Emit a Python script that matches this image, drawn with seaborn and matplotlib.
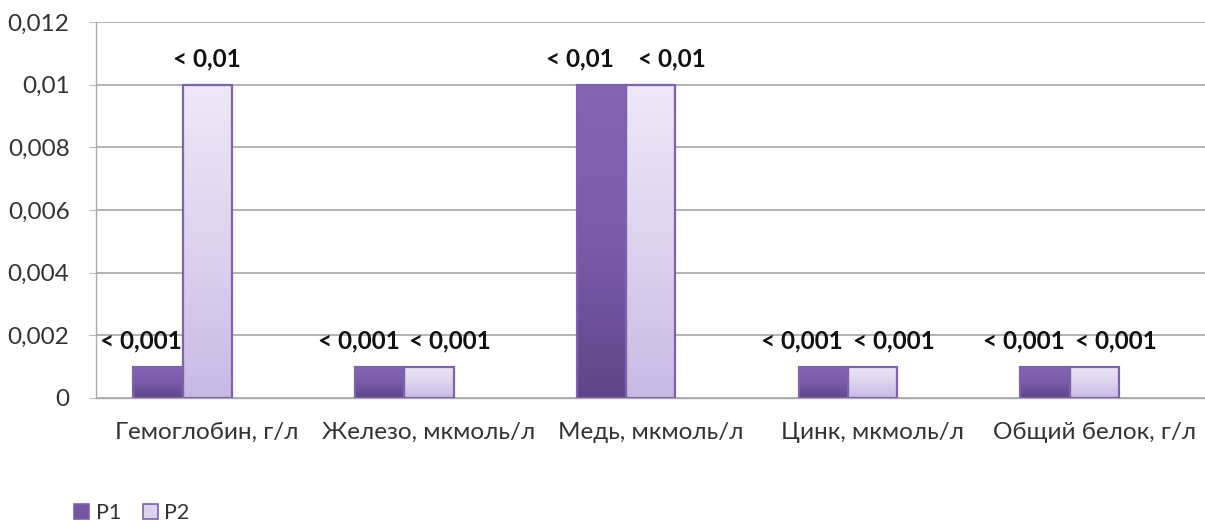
import numpy as np
import pandas as pd
import matplotlib
matplotlib.use("Agg")
import matplotlib.pyplot as plt
from matplotlib.colors import LinearSegmentedColormap
from matplotlib.patches import Patch
from matplotlib.ticker import FixedLocator, FuncFormatter
import seaborn as sns

# Data
categories = ["Гемоглобин, г/л", "Железо, мкмоль/л", "Медь, мкмоль/л",
              "Цинк, мкмоль/л", "Общий белок, г/л"]
series_names = ["P1", "P2"]
p1_values = [0.001, 0.001, 0.01, 0.001, 0.001]
p2_values = [0.01, 0.001, 0.01, 0.001, 0.001]
p1_labels = ["< 0,001", "< 0,001", "< 0,01", "< 0,001", "< 0,001"]
p2_labels = ["< 0,01", "< 0,001", "< 0,01", "< 0,001", "< 0,001"]
y_ticks = [0, 0.002, 0.004, 0.006, 0.008, 0.01, 0.012]

df = pd.DataFrame({
    "category": categories * 2,
    "series": [series_names[0]] * len(categories) + [series_names[1]] * len(categories),
    "value": p1_values + p2_values,
    "label": p1_labels + p2_labels,
})

sns.set_theme(style="white")
plt.rcParams["font.family"] = ["Lato", "DejaVu Sans"]

fig = plt.figure(figsize=(12.05, 5.25), dpi=100)
ax = fig.add_axes([96 / 1205, 1 - 398 / 525, 1 - 96 / 1205, (398 - 22) / 525])

edge = "#7E63A9"
palette = {"P1": "#7556A3", "P2": "#DCD2EE"}
sns.barplot(data=df, x="category", y="value", hue="series", order=categories,
            hue_order=series_names, palette=palette, width=0.445, dodge=True,
            edgecolor=edge, linewidth=1.6, saturation=1, legend=False, ax=ax, zorder=3)

# vertical gradients on bars
grad_maps = {
    "P1": LinearSegmentedColormap.from_list("p1", ["#5F4588", "#7A5BAA", "#8566B5"]),
    "P2": LinearSegmentedColormap.from_list("p2", ["#C8B9E4", "#DDD3EF", "#EDE8F6"]),
}
grad = np.linspace(0, 1, 256).reshape(-1, 1)
for container, name in zip(ax.containers, series_names):
    for bar in container:
        x0, y0 = bar.get_x(), bar.get_y()
        w, h = bar.get_width(), bar.get_height()
        im = ax.imshow(grad, cmap=grad_maps[name], origin="lower", aspect="auto",
                       extent=(x0, x0 + w, y0, y0 + h), zorder=3.5, interpolation="bilinear")
        im.set_clip_path(bar)
        bar.set_zorder(4)
        bar.set_facecolor("none")

# value labels above bars
for idx, (container, name) in enumerate(zip(ax.containers, series_names)):
    sub = df[df["series"] == name].set_index("category").loc[categories]
    for j, bar in enumerate(container):
        v1, v2 = p1_values[j], p2_values[j]
        shift = 0.0
        if v1 == v2:
            shift = -0.095 if idx == 0 else 0.095
        elif idx == 0 and v1 < v2:
            shift = -0.075
        cx = bar.get_x() + bar.get_width() / 2 + shift
        ax.annotate(sub["label"].iloc[j], (cx, bar.get_height()),
                    xytext=(0, 10), textcoords="offset points", ha="center", va="bottom",
                    fontsize=17.5, fontweight="bold", color="#111111", zorder=6)

ax.set_xlim(-0.39, len(categories) - 0.39)
ax.set_ylim(0, 0.012)
ax.yaxis.set_major_locator(FixedLocator(y_ticks))
ax.yaxis.set_major_formatter(FuncFormatter(lambda v, _: ("%g" % round(v, 4)).replace(".", ",")))

# category labels centered between tick marks
ax.set_xticks([i + 0.11 for i in range(len(categories))])
ax.set_xticklabels(categories)
ax.set_xticks([i - 0.39 for i in range(len(categories) + 1)], minor=True)
ax.tick_params(axis="x", which="major", length=0, pad=17, labelsize=17.5, labelcolor="#333333")
ax.tick_params(axis="x", which="minor", length=6, width=0.8, color="#BBBBBB", direction="out")
ax.tick_params(axis="y", length=5, width=0.8, color="#BBBBBB", direction="out", pad=14,
               labelsize=17.5, labelcolor="#333333", left=True)
ax.set_xlabel("")
ax.set_ylabel("")

ax.grid(axis="y", color="#A6A6A6", linewidth=1.2, zorder=0)
ax.grid(axis="x", visible=False)
for side in ["top", "right"]:
    ax.spines[side].set_visible(False)
for side in ["left", "bottom"]:
    ax.spines[side].set_color("#AAAAAA")
    ax.spines[side].set_linestyle((0, (1, 1)))
    ax.spines[side].set_linewidth(1.0)

handles = [Patch(facecolor=palette[n], edgecolor=edge, linewidth=1.2) for n in series_names]
fig.legend(handles, series_names, loc="lower left", bbox_to_anchor=(55 / 1205, -0.034),
           ncol=2, frameon=False, fontsize=15.5, handlelength=0.7, handleheight=0.7,
           handletextpad=0.3, columnspacing=1.0, labelcolor="#333333")

fig.savefig("out.png", dpi=100)
